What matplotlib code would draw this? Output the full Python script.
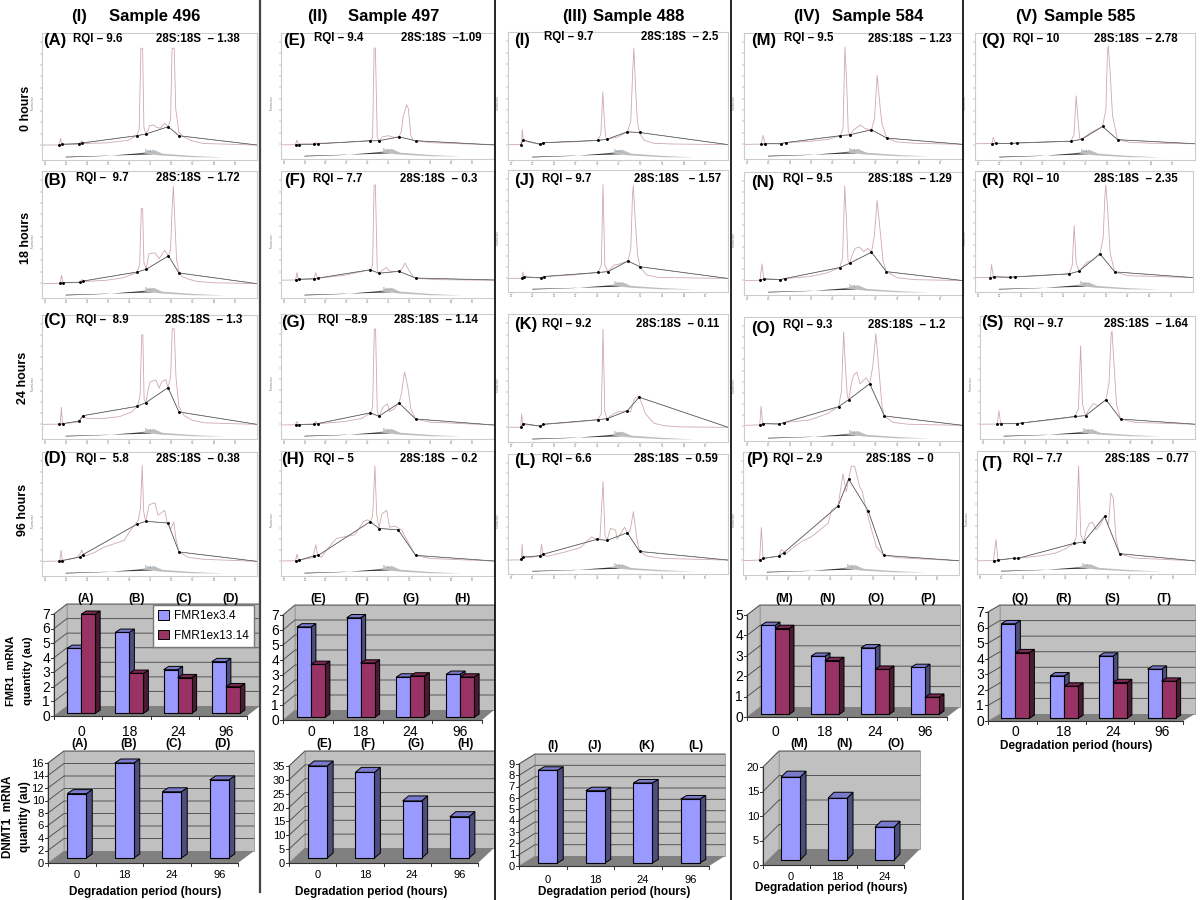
import matplotlib
matplotlib.use("Agg")
import matplotlib.pyplot as plt
from matplotlib.patches import Polygon, Patch

plt.rcParams['font.family'] = ['Liberation Sans', 'DejaVu Sans']
W, H = 1200, 900

# ---------- electropherogram data (time %, fluorescence %) ----------
A_trace = [(0,11.8),(7.5,11.8),(8,12),(8.6,17),(9.2,12.8),(16,12.2),(17.3,12.8),(18.4,15),(19.5,13),(30,13.5),(40,15.5),(44,19),(45.2,24),(46,88),(46.8,88),(47.4,26),(48.2,20.4),(49.5,24),(50,27),(52,27.5),(53,26),(55,25),(57,29),(58.7,26),(59.8,32),(60.5,88),(61.5,88),(62.2,40),(63.7,22),(66,18),(70,15),(75,13),(100,11.8)]
A_fit = [(8,11.8),(9.2,12.3),(17.3,12.9),(18.7,13.4),(44,19.1),(48.2,20.4),(58.7,26.2),(63.7,19.1),(100,11.8)]
B_trace = [(0,11.3),(8,11.5),(8.6,13),(9.1,18),(9.7,13),(10.5,12),(17.5,12.2),(18.6,14.5),(19.8,13),(30,14),(38,16),(44,20),(45.4,26),(46.2,70.5),(46.8,70.5),(47.4,28),(48.5,23),(49.2,30),(49.8,35),(52.5,35.5),(54.5,31),(57.1,37.6),(58.8,33),(59.8,38),(60.5,70),(61.1,88),(61.8,60),(62.6,30),(63.7,21),(65,17),(68,15),(72,13),(80,12),(100,11.3)]
B_fit = [(8.5,11.8),(9.9,12.1),(17.9,12.4),(19.3,13.4),(44.4,20.5),(48.5,22.6),(58.8,33.2),(63.7,19.7),(100,11.3)]
C_trace = [(0,11.8),(7.5,12),(8.5,13),(9,25.5),(9.5,13),(10.5,12.5),(16,13.5),(18,16),(19,18.5),(21,16.5),(28,16.5),(36,18),(42,22),(44.5,27),(45.6,35),(46.4,84),(46.9,84),(47.5,32),(48.3,29.3),(49.2,38),(50.2,46),(53,47.6),(54.5,41),(55.6,46),(57.6,48),(58.6,41),(59.8,50),(60.6,89),(61.5,89),(62.3,50),(63.7,26),(66,19),(70,15),(76,13),(100,11.8)]
C_fit = [(7.9,11.8),(9.7,12.4),(17.4,14.5),(19,18.8),(44.1,26.3),(48.3,29.3),(58.6,41.4),(63.7,21.8),(100,11.8)]
D_trace = [(0,11.8),(7.5,12),(8.4,13),(8.9,20.7),(9.4,13),(10.5,13),(16,14.8),(17.8,18),(18.5,21),(19.3,17),(19.8,16),(24.4,19),(29,23.4),(33.6,26),(38.3,28.8),(40.6,35.5),(43,41),(44.8,45),(45.8,55),(46.6,89),(47.3,52),(48.2,44),(49,50),(49.8,57.5),(52.5,59),(54,49),(57.1,53),(58.3,42),(59.9,38),(61.3,43.5),(62.3,30),(63.7,19.4),(68,15),(75,13.5),(100,11.8)]
D_fit = [(7.9,11.8),(9.4,12.4),(17.6,15.3),(19,17.2),(44.1,41.7),(48.3,44.1),(58.6,42.7),(63.7,19.4),(100,11.8)]
E_trace = [(0,11.2),(6.8,11.4),(7.5,15),(8.2,12),(15,12),(16,13),(17.2,12.5),(30,13.2),(41.9,14.5),(43,17),(43.7,88),(44.3,88),(45.2,17),(46,14.5),(47.6,17.6),(50.4,18.5),(53,17),(55.4,17.6),(56.5,22),(57.4,34),(59,43),(59.8,40),(60.9,19),(62,15),(63.2,14.5),(70,13),(100,11.2)]
E_fit = [(7,11.2),(8.5,11.5),(15.6,11.8),(17.5,12.1),(41.9,14.5),(46,14.5),(55.4,17.6),(63.2,14.5),(100,11.2)]
F_trace = [(0,14),(6.9,14.2),(7.5,20),(8.2,14.5),(15.4,15),(16.3,19.8),(17.2,15.5),(30,18),(41.9,22.2),(43,26),(43.7,89),(44.3,89),(45.2,22),(46,19.5),(47.5,22),(49.6,24),(51,21),(55.4,21),(56.8,23),(58.2,27.5),(60,22),(62,17),(63.2,15.7),(72,14.5),(100,14)]
F_fit = [(7,14.2),(8.5,14.8),(15.6,15.1),(17.5,15.7),(41.9,22.2),(46,19.5),(55.4,21),(63.2,15.7),(100,14.2)]
G_trace = [(0,11.2),(6.8,11.4),(7.5,14),(8.2,11.6),(15.4,12),(16.3,14),(17.2,12.2),(30,14),(38,16.5),(41.9,20.9),(43,25),(43.8,88),(44.4,88),(45.2,22),(46,18.2),(48,25.8),(50,28),(51,22),(53,24),(55.4,28.8),(56.5,36),(58,53.6),(59.5,42),(61,24),(63.2,16),(70,13.5),(100,11.2)]
G_fit = [(7,11.2),(8.5,11.5),(15.6,11.8),(17.5,12.4),(41.9,20.9),(46,18.2),(55.4,28.8),(63.2,16),(100,11.2)]
H_trace = [(0,12),(6.8,12.2),(7.5,17.4),(8.2,12.8),(15,14.5),(16.3,25),(17.2,17),(19,15),(22.2,22.5),(26,30),(30,31.5),(34.7,33),(38.7,43.5),(40.7,45),(41.9,43.5),(43,48),(44.1,88),(44.9,50),(46,38),(47.3,49.5),(49.6,52.6),(51,39),(53.5,40),(56.7,36.6),(59.7,27),(63.2,16.5),(70,14),(100,12)]
H_fit = [(7,12),(8.5,12.6),(15.6,16.2),(17.5,16.5),(41.9,43.5),(46,38),(55,37),(63.2,16.5),(100,12)]
I_trace = [(0,12),(5.8,12),(6.2,15),(6.5,23.8),(6.9,16),(8,14.5),(12,13),(14.7,12.3),(15.9,13.5),(30,14.2),(40.7,15.3),(42.2,20),(43.1,53),(43.8,30),(44.4,18),(45,16.2),(50,18),(54.2,22),(55.8,30),(56.7,70),(57.2,87.4),(57.9,60),(58.8,30),(59.8,21),(61.8,15.6),(66.3,13),(75,12.5),(100,12)]
I_fit = [(5.9,12),(6.8,15.6),(14.7,12.3),(15.9,13.5),(40.7,15.3),(45,16.2),(54.2,22),(59.8,21.5),(100,12)]
J_trace = [(0,11.1),(6,11.3),(6.4,12),(6.8,16.4),(7.2,12.5),(15,11.6),(16.4,12.7),(30,14),(41,16),(42.4,22),(43.2,88),(44,22),(45.5,16.7),(48,22),(50,22.6),(54.5,25.4),(55.8,35),(56.6,80),(57,87),(57.8,60),(58.9,30),(60,20.7),(63,14),(68,12),(100,11.1)]
J_fit = [(6.4,11.5),(7.4,12.4),(15.2,11.5),(16.4,12.7),(41,16),(45.5,16.7),(54.5,25.4),(60,20.7),(100,11.1)]
K_trace = [(0,11.5),(5.8,11.5),(6.2,22),(6.6,15),(8,13.5),(14.7,12.4),(15.9,13.8),(30,15.5),(40.7,17.4),(42.4,22),(43.2,88),(44,24),(45,18.2),(48,22),(50,23.5),(54.2,24.4),(55.7,23.5),(57.5,34),(59.5,36),(62.5,22),(66.3,14.7),(70.9,12.7),(78,11.8),(100,11.5)]
K_fit = [(5.9,11.5),(6.8,14.4),(14.7,12.4),(15.9,13.8),(40.7,17.4),(45,18.2),(54.2,24.4),(59.6,35),(100,11.5)]
L_trace = [(0,11.6),(5.7,11.8),(6.1,13),(6.4,24.7),(6.8,14),(9,13.5),(14.7,15),(15.2,24.7),(15.9,16.4),(17.8,14.7),(25.3,18),(33,22),(38,31),(39.5,29.5),(41.8,30),(43.2,77),(44.1,32),(45,28),(46.6,38),(48.9,36.6),(49.6,29),(53,39),(54.2,34.4),(55.5,36),(57,51.9),(58.5,30),(59.8,18.8),(63,15),(70,13),(100,11.6)]
L_fit = [(5.9,12.5),(6.8,14),(14.7,15.3),(15.9,16.4),(40.5,28.9),(45,28),(54.2,34.4),(59.8,18.8),(100,11.6)]
M_trace = [(0,11.6),(7.8,11.8),(8.7,18.7),(9.6,12.5),(16.8,12),(18,13),(19.1,13),(30,14),(38,15.5),(44,18.5),(45.2,24),(46.1,88.9),(46.9,60),(47.6,22),(48.5,19.3),(50,23),(53.1,27),(55.4,24),(58.2,23.2),(59.6,32),(60.8,66.5),(62.3,38.5),(63,28),(65.2,16.6),(70,13.5),(78,12.5),(100,11.6)]
M_fit = [(7.8,11.6),(9.6,12.1),(16.8,12.1),(19.1,13),(44,18.5),(48.5,19.3),(58.2,23.2),(65.2,16.6),(100,11.6)]
N_trace = [(0,11.7),(7.3,12),(8.2,25.3),(9,13.5),(16.5,12.5),(18.5,13.3),(30,15),(38,18),(43.7,22.3),(45,30),(46,88.6),(46.8,60),(47.5,28),(48.2,25.8),(49.5,33),(50.8,38),(52.7,39),(54.7,35.3),(56.5,38),(58.2,34.8),(59.5,48),(60.8,76.8),(62.3,50),(63.5,28),(65,19),(70,14),(78,12.5),(100,11.7)]
N_fit = [(7.3,12.2),(9,13),(16.5,12.5),(18.5,13.3),(43.7,22.3),(48.2,25.8),(58.2,34.8),(65,19),(100,11.7)]
O_trace = [(0,12.6),(7.2,13),(7.8,28),(8.5,14),(16.2,13.7),(18.2,14.8),(30,17),(38,22),(43.2,27.7),(44.5,40),(45.5,87.9),(46.3,60),(47.2,36),(47.8,33.3),(49,46),(50,53),(51.5,55.6),(53,46),(55.8,51),(57.4,46.2),(58.8,60),(60.2,86.6),(61.5,60),(63,28),(64.1,20.2),(68,15),(75,13.5),(100,12.6)]
O_fit = [(7.2,13.2),(8.9,14),(16.2,13.7),(18.2,14.8),(43.2,27.7),(47.8,33.3),(57.4,46.2),(64.1,20.2),(100,12.6)]
P_trace = [(0,11.6),(7.7,12.2),(8.5,38.6),(9.3,13.5),(16.7,15.4),(17.7,20.8),(20,17.6),(24.7,24.3),(27.8,27.8),(31.6,31),(35.5,36.5),(39.4,42),(41,53),(44,56),(46.3,82.4),(47.8,67.6),(48.9,78),(50.2,88.4),(51.7,88.4),(54,71.6),(55,69),(58.3,44.6),(61.7,23),(65.1,16),(72,14),(100,11.6)]
P_fit = [(7.7,12.2),(9.3,13.5),(16.7,15.4),(18.8,18),(44,56),(48.9,78),(58,52),(65.1,16),(100,11.6)]
Q_trace = [(0,12.8),(7.7,13),(8.3,17.8),(9.4,13.2),(16.4,13),(18.9,13.4),(30,14),(43.6,14.8),(45,20),(46,50.5),(46.9,30),(47.6,17),(48.5,16.3),(53,22),(58,26.4),(59.5,40),(60.2,85),(60.6,89.9),(61.4,70),(62.5,35),(64.8,16),(70,14),(80,13.2),(100,12.8)]
Q_fit = [(7.9,12.8),(9.4,13),(16.4,13),(18.9,13.4),(43.6,14.8),(48.5,16.3),(58,26.4),(64.8,16),(100,12.8)]
R_trace = [(0,11.9),(7,12),(7.6,22.6),(8.4,12.8),(15.9,12.2),(18.2,12.5),(30,13.5),(43.2,15),(44.6,22),(45.5,54.7),(46.4,24),(47.7,17.2),(51.5,25),(54,26),(57.3,31.6),(58.8,45),(59.6,80),(60,88.4),(60.8,70),(62,32),(64.1,16.6),(70,13.5),(100,11.9)]
R_fit = [(7,11.9),(8.6,12.5),(15.9,12.2),(18.2,12.5),(43.2,15),(47.7,17.2),(57.3,31.6),(64.1,16.6),(100,11.9)]
S_trace = [(0,12),(8,12.2),(8.8,22.9),(9.6,12.8),(17,12.5),(19.4,13),(30,15),(38,16.5),(44.2,18.3),(45.8,25),(46.8,75.8),(47.7,28),(49.1,19),(51,25),(52.7,28.8),(55,27),(58.6,32),(60,45),(61,85),(61.4,87.8),(62.2,65),(63.5,28),(65.4,16.2),(72,13.5),(100,12)]
S_fit = [(8.1,12),(9.6,12.5),(17,12.5),(19.4,13),(44.2,18.3),(49.1,19),(58.6,32),(65.4,16.2),(100,12)]
T_trace = [(0,10.7),(7.6,10.9),(8.7,28),(9.6,11.5),(16.8,12.8),(19,12.8),(30,15),(36,17),(40,20),(44.3,24.8),(45.5,30),(46.6,87.9),(47.6,32),(48.9,26),(50.2,36),(51.5,41),(53,42),(54.6,35.8),(56.5,40),(58.5,46.8),(60.3,40),(61.4,65.7),(62.5,62),(63.8,28),(65.4,16.5),(72,13),(100,10.7)]
T_fit = [(7.6,10.7),(9.6,11.3),(16.8,12.8),(19,12.8),(44.3,24.8),(48.9,26),(58.5,46.8),(65.4,16.5),(100,10.7)]

panel_letters = list("ABCDEFGHIJKLMNOPQRST")
traces = [A_trace,B_trace,C_trace,D_trace,E_trace,F_trace,G_trace,H_trace,I_trace,J_trace,K_trace,L_trace,M_trace,N_trace,O_trace,P_trace,Q_trace,R_trace,S_trace,T_trace]
fits = [A_fit,B_fit,C_fit,D_fit,E_fit,F_fit,G_fit,H_fit,I_fit,J_fit,K_fit,L_fit,M_fit,N_fit,O_fit,P_fit,Q_fit,R_fit,S_fit,T_fit]
rqi_text = ["RQI – 9.6","RQI –  9.7","RQI –  8.9","RQI –  5.8","RQI – 9.4","RQI – 7.7","RQI  –8.9","RQI – 5",
            "RQI – 9.7","RQI – 9.7","RQI – 9.2","RQI – 6.6","RQI – 9.5","RQI – 9.5","RQI – 9.3","RQI – 2.9",
            "RQI – 10","RQI – 10","RQI – 9.7","RQI – 7.7"]
ratio_text = ["28S:18S  – 1.38","28S:18S  – 1.72","28S:18S  – 1.3","28S:18S  – 0.38","28S:18S  –1.09","28S:18S  – 0.3","28S:18S  – 1.14","28S:18S  – 0.2",
              "28S:18S  – 2.5","28S:18S   – 1.57","28S:18S  – 0.11","28S:18S  – 0.59","28S:18S  – 1.23","28S:18S  – 1.29","28S:18S  – 1.2","28S:18S  – 0",
              "28S:18S  – 2.78","28S:18S  – 2.35","28S:18S  – 1.64","28S:18S  – 0.77"]
fast_ticks = [1.6,11.3,21.1,30.8,40.5,50.4,60.2,70.1,80.1,89.9]
fast_tick_labels = ["20","25","30","35","40","45","50","55","60","65"]
fu_ticks = [11.8,20.8,29.8,38.8,47.8,56.8,65.8,74.8,83.8,92.8]
gel_dark = [(11,2),(30,3.2),(47,5.5),(52,4.5),(35,3.6),(11,2.6)]
gel_light = [(46,5.5),(52,8),(56,5),(70,3.2),(85,2),(70,2.2),(55,3.6)]

# ---------- bar data ----------
hours = ["0","18","24","96"]
hours_short = ["0","18","24"]
fmr_496_ex34 = [4.46,5.56,3.0,3.55]
fmr_496_ex1314 = [6.8,2.75,2.45,1.83]
fmr_497_ex34 = [6.03,6.64,2.69,2.87]
fmr_497_ex1314 = [3.53,3.62,2.76,2.69]
fmr_584_ex34 = [4.36,2.85,3.26,2.3]
fmr_584_ex1314 = [4.21,2.64,2.21,0.84]
fmr_585_ex34 = [6.08,2.73,4.0,3.16]
fmr_585_ex1314 = [4.22,2.07,2.3,2.39]
dnmt_496 = [10.3,15.2,10.6,12.5]
dnmt_497 = [33.2,30.9,20.6,14.9]
dnmt_488 = [8.18,6.38,7.06,5.65]
dnmt_584 = [16.9,12.6,6.7]
ticks7 = [0,1,2,3,4,5,6,7]
ticks5 = [0,1,2,3,4,5]
ticks16 = [0,2,4,6,8,10,12,14,16]
ticks35 = [0,5,10,15,20,25,30,35]
ticks9 = [0,1,2,3,4,5,6,7,8,9]
ticks20 = [0,5,10,15,20]

# ---------- layout ----------
fig = plt.figure(figsize=(12, 9), dpi=100)
fig.patch.set_facecolor("white")

def ftext(x, y, s, **kw):
    kw.setdefault("ha", "left"); kw.setdefault("va", "center"); kw.setdefault("color", "black")
    fig.text(x / W, 1 - y / H, s, **kw)

frames = [(42,33,257,160),(42,171,257,298),(42,315,257,439),(42,452,257,576),
          (281,33,494,159),(281,171,494,298),(281,314,494,439),(281,451,494,576),
          (508,32,728,160),(508,170,728,292),(508,314,728,442),(508,454,728,574),
          (744,33,963,159),(744,172,963,295),(744,317,963,441),(743,452,959,575),
          (975,33,1195,160),(975,171,1193,292),(980,316,1195,439),(977,451,1195,574)]
letter_pos = [(43,40),(43,180),(43,320),(43,459),(283,41),(284,181),(281,323),(281,460),
              (514,41),(514,180),(514,324),(514,461),(751,41),(751,182),(751,328),(746,460),
              (981,41),(981,180),(981,322),(981,463)]
rqi_pos = [(73,39),(76,178),(76,320),(76,459),(314,38),(313,179),(318,320),(314,459),
           (544,37),(542,179),(542,324),(542,459),(784,38),(783,179),(783,325),(773,459),
           (1013,39),(1013,179),(1014,324),(1013,459)]
ratio_pos = [(156,39),(156,178),(165,320),(156,459),(401,38),(400,179),(394,320),(400,459),
             (641,37),(634,179),(636,324),(634,459),(868,39),(868,179),(868,325),(866,459),
             (1094,39),(1094,179),(1104,324),(1105,459)]

for i, (tr, ft) in enumerate(zip(traces, fits)):
    l, t, r, b = frames[i]
    ax = fig.add_axes([l / W, 1 - b / H, (r - l) / W, (b - t) / H])
    ax.set_xlim(0, 100); ax.set_ylim(0, 100)
    for s in ax.spines.values():
        s.set_color("#cccccc"); s.set_linewidth(0.8)
    ax.set_xticks(fast_ticks, fast_tick_labels, fontsize=2, color="#777777")
    ax.set_yticks(fu_ticks, [""] * len(fu_ticks))
    ax.tick_params(length=1.2, width=0.3, color="#777777", pad=0.5)
    ax.plot([p[0] for p in tr], [p[1] for p in tr], color="#cfa9ac", lw=0.6)
    ax.plot([p[0] for p in ft], [p[1] for p in ft], color="#a8a8a8", lw=0.7)
    ax.plot([p[0] for p in ft], [p[1] for p in ft], color="#333333", lw=0.3)
    ax.plot([p[0] for p in ft[:-1]], [p[1] for p in ft[:-1]], ls="none", marker="o", ms=1.1, color="black")
    ax.add_patch(Polygon(gel_dark, closed=True, fc="#333333", ec="none"))
    ax.add_patch(Polygon(gel_light, closed=True, fc="#bdbdbd", ec="none"))
    ax.text(48, 7.2, "Fast", fontsize=2.5, color="#6f8fa8", ha="left", va="center")
    ax.text(-4.5, 45, "Fluorescence", fontsize=1.8, color="#777777", rotation=90, ha="center", va="center")
    ftext(*letter_pos[i], "(%s)" % panel_letters[i], fontsize=12, fontweight="bold")
    ftext(*rqi_pos[i], rqi_text[i], fontsize=8.3, fontweight="bold")
    ftext(*ratio_pos[i], ratio_text[i], fontsize=8.3, fontweight="bold")

# dividers
for x, col, lw, y1 in [(260,"#444444",1.6,892),(495,"black",1.2,900),(731,"black",1.2,900),(963,"black",1.2,900)]:
    fig.add_artist(plt.Line2D([x / W, x / W], [1, 1 - y1 / H], color=col, lw=lw))

# headers
header_nums = [("(I)",79),("(II)",317),("(III)",575),("(IV)",807),("(V)",1026)]
header_names = [("Sample 496",155),("Sample 497",394),("Sample 488",639),("Sample 584",878),("Sample 585",1090)]
for (s, x), (n, x2) in zip(header_nums, header_names):
    ftext(x, 17, s, ha="center", fontsize=12, fontweight="bold")
    ftext(x2, 17, n, ha="center", fontsize=12, fontweight="bold")
for s, x, y in [("0 hours",26,108),("18 hours",26,238),("24 hours",23,378),("96 hours",23,510)]:
    ftext(x, y, s, ha="center", rotation=90, fontsize=9, fontweight="bold")

WALL, FLOOR = "#c0c0c0", "#808080"
BLUE = ("#9999ff", "#7a7acc", "#4d4d80")
RED = ("#993366", "#7a2952", "#4d1a33")

def bars3d(front, wall_depth, vmax, ticks, cats, series, letters, letter_xs, letter_y,
           tick_y, tick_fs, bw_px, bar_depth=(5, 3.3), foot=(3, 2.6)):
    x0, x1, y0, ytop = front
    ax = fig.add_axes([x0 / W, 1 - y0 / H, (x1 - x0) / W, (y0 - ytop) / H])
    n = len(cats)
    ax.set_xlim(0, n); ax.set_ylim(0, vmax); ax.axis("off")
    ux, uy = n / (x1 - x0), vmax / (y0 - ytop)
    dx, dy = wall_depth[0] * ux, wall_depth[1] * uy
    def poly(pts, fc, ec="none", lw=0.0, z=1):
        ax.add_patch(Polygon(pts, closed=True, fc=fc, ec=ec, lw=lw, clip_on=False, zorder=z))
    poly([(dx, dy), (n + dx, dy), (n + dx, vmax + dy), (dx, vmax + dy)], WALL, "#9a9a9a", 0.6)
    poly([(0, 0), (dx, dy), (dx, vmax + dy), (0, vmax)], WALL, "#9a9a9a", 0.6)
    poly([(0, 0), (n, 0), (n + dx, dy), (dx, dy)], FLOOR)
    for v in ticks[1:]:
        ax.plot([0, dx, n + dx], [v, v + dy, v + dy], color="#555555", lw=0.7, clip_on=False, zorder=1.5)
    ax.plot([0, 0], [0, vmax], color="#333333", lw=0.8, clip_on=False, zorder=2)
    ax.plot([0, n], [0, 0], color="#333333", lw=0.8, clip_on=False, zorder=2)
    for v in ticks:
        ax.plot([0, -3 * ux], [v, v], color="#333333", lw=0.7, clip_on=False)
        ax.text(-4 * ux, v - 0.8 * uy, str(v), ha="right", va="center", fontsize=tick_fs, color="black")
    for k in range(n + 1):
        ax.plot([k, k], [0, -3 * uy], color="#333333", lw=0.7, clip_on=False)
    bw = bw_px * ux
    bdx, bdy = bar_depth[0] * ux, bar_depth[1] * uy
    fx, fy = foot[0] * ux, foot[1] * uy
    m = len(series)
    for c in range(n):
        for s, (vals, cols) in enumerate(series):
            xl = c + 0.5 + fx - m * bw / 2 + s * bw
            xr = xl + bw
            top = vals[c] + fy
            z = 3 + c + s * 0.1
            poly([(xr, fy), (xr + bdx, fy + bdy), (xr + bdx, top + bdy), (xr, top)], cols[2], "black", 0.7, z)
            poly([(xl, top), (xr, top), (xr + bdx, top + bdy), (xl + bdx, top + bdy)], cols[1], "black", 0.7, z)
            poly([(xl, fy), (xr, fy), (xr, top), (xl, top)], cols[0], "black", 0.8, z)
        ax.text(c + 0.5 + fx, (y0 - tick_y) * uy, cats[c], ha="center", va="center", fontsize=tick_fs, color="black")
    for lab, lx in zip(letters, letter_xs):
        ftext(lx, letter_y, lab, ha="center", fontsize=8.5, fontweight="bold")
    return ax

ax_a = bars3d((54,247,716,614), (13,10), 7, ticks7, hours,
              [(fmr_496_ex34,BLUE),(fmr_496_ex1314,RED)], ["(A)","(B)","(C)","(D)"], [86,137,184,231], 599, 732, 10, 14)
ax_a.legend(handles=[Patch(fc=BLUE[0], ec="black", lw=0.7), Patch(fc=RED[0], ec="black", lw=0.7)],
            labels=["FMR1ex3.4","FMR1ex13.14"], loc="upper left",
            bbox_to_anchor=(153 / W, 1 - 605 / H), bbox_transform=fig.transFigure,
            fontsize=8.6, fancybox=False, framealpha=1, edgecolor="#777777", handlelength=0.85,
            handleheight=0.85, handletextpad=0.45, borderpad=0.45, labelspacing=0.6, borderaxespad=0).set_zorder(20)
bars3d((283,482,720,615), (12,10), 7, ticks7, hours,
       [(fmr_497_ex34,BLUE),(fmr_497_ex1314,RED)], ["(E)","(F)","(G)","(H)"], [318,362,411,463], 599, 732, 10, 14)
bars3d((747,947,717,615), (13,10), 5, ticks5, hours,
       [(fmr_584_ex34,BLUE),(fmr_584_ex1314,RED)], ["(M)","(N)","(O)","(P)"], [784,828,876,928], 599, 732, 10, 14)
bars3d((988,1183,721,612), (12,7), 7, ticks7, hours,
       [(fmr_585_ex34,BLUE),(fmr_585_ex1314,RED)], ["(Q)","(R)","(S)","(T)"], [1020,1064,1112,1164], 599, 732, 10, 14)
bars3d((48,238,863,763), (16,12), 16, ticks16, hours,
       [(dnmt_496,BLUE)], ["(A)","(B)","(C)","(D)"], [80,129,174,223], 744, 875, 8, 19, (6,4), (5,5))
bars3d((289,478,863,766), (16,15), 35, ticks35, hours,
       [(dnmt_497,BLUE)], ["(E)","(F)","(G)","(H)"], [324,368,416,466], 744, 875, 8, 19, (6,5), (5,5))
bars3d((519,709,866,764), (16,10), 9, ticks9, hours,
       [(dnmt_488,BLUE)], ["(I)","(J)","(K)","(L)"], [553,595,647,696], 746, 880, 8, 19, (6,3.5), (5,3))
bars3d((763,904,865,767), (16,16), 20, ticks20, hours_short,
       [(dnmt_584,BLUE)], ["(M)","(N)","(O)"], [799,845,896], 744, 877, 8, 19, (6,6), (4,5))

for x, y in [(145,892),(371,892),(614,892),(831,888),(1076,746)]:
    ftext(x, y, "Degradation period (hours)", ha="center", fontsize=8.5, fontweight="bold")
ftext(11, 671, "FMR1  mRNA", ha="center", rotation=90, fontsize=8, fontweight="bold")
ftext(28, 671, "quantity (au)", ha="center", rotation=90, fontsize=8.2, fontweight="bold")
ftext(8, 817, "DNMT1  mRNA", ha="center", rotation=90, fontsize=8.5, fontweight="bold")
ftext(25, 817, "quantity (au)", ha="center", rotation=90, fontsize=8.5, fontweight="bold")

fig.savefig("out.png", dpi=100, facecolor="white")
